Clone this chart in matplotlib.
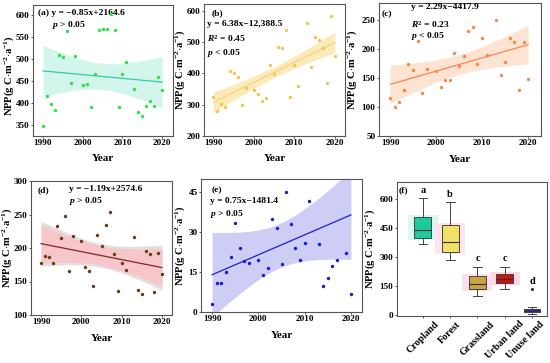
import numpy as np
import matplotlib
matplotlib.use('Agg')
import matplotlib.pyplot as plt
from matplotlib.transforms import ScaledTranslation

plt.rcParams['font.family'] = ['Liberation Serif', 'DejaVu Serif']
plt.rcParams['font.weight'] = 'bold'
plt.rcParams['mathtext.fontset'] = 'custom'
plt.rcParams['mathtext.rm'] = 'Liberation Serif:bold'
plt.rcParams['mathtext.it'] = 'Liberation Serif:italic:bold'
plt.rcParams['mathtext.bf'] = 'Liberation Serif:bold'

# ---- data ----
years = [1990, 1991, 1992, 1993, 1994, 1995, 1996, 1997, 1998, 2000, 2001, 2002, 2003,
         2004, 2005, 2006, 2007, 2008, 2009, 2010, 2011, 2013, 2014, 2015, 2016, 2017,
         2018, 2019, 2020]
years_e = [y for y in years if y != 2018]

npp_cropland = [347, 415, 398, 384, 509, 504, 564, 445, 507, 442, 443, 390, 466, 567, 568,
                568, 602, 565, 392, 465, 493, 433, 380, 370, 393, 405, 393, 460, 429]
npp_forest = [325, 281, 303, 293, 409, 403, 390, 299, 355, 348, 334, 311, 323, 428, 399,
              483, 481, 539, 325, 427, 359, 560, 419, 515, 506, 481, 368, 585, 456]
npp_grass = [115, 101, 109, 130, 175, 165, 215, 124, 166, 162, 134, 146, 146, 194, 171,
             188, 232, 239, 174, 220, 190, 250, 156, 178, 219, 212, 130, 213, 149]
npp_urban = [177, 188, 187, 178, 233, 215, 248, 166, 218, 210, 171, 165, 144, 219, 203,
             235, 253, 191, 136, 178, 167, 217, 138, 132, 195, 191, 135, 192, 161]
npp_unuse = [3, 11, 11, 15, 20.5, 33.5, 24, 19, 18.6, 19.4, 13.9, 16.4, 35, 31.7, 18.2,
             45, 33, 24, 19.4, 25.9, 41.9, 25.5, 9.75, 12.9, 17.4, 19.4, 22, 6.75]

# trend lines as printed in the panels (e: intercept)
slopes = [-0.85, 6.38, 2.29, -1.19, 0.75]
intercepts = [2164.6, -12388.5, -4417.9, 2574.6, -1478.5]

land_types = ['Cropland', 'Forest', 'Grassland', 'Urban land', 'Unuse land']
box_whislo = [368, 283, 99, 133, 5]
box_q1 = [397, 326, 133, 167, 14]
box_med = [440, 380, 163, 187, 22]
box_q3 = [508, 468, 201, 215, 33]
box_whishi = [606, 584, 250, 250, 44]
box_fliers = [[], [], [], [], [135]]
box_letters = ['a', 'b', 'c', 'c', 'd']


def px_axes(fig, left, right, top, bottom):
    W, H = 550, 363
    return fig.add_axes([left / W, 1 - bottom / H, (right - left) / W, (bottom - top) / H])


def style(ax, ylab_x, xlab_y=-0.14, ylab_y=0.5):
    for s in ax.spines.values():
        s.set_color('#555555')
        s.set_linewidth(0.8)
    ax.tick_params(direction='out', length=1.5, width=0.7, color='#555555',
                   labelsize=6.6, pad=1)
    for lab in ax.get_xticklabels() + ax.get_yticklabels():
        lab.set_fontweight('bold')
    ax.set_ylabel(r'NPP(g C$\cdot$m$^{-2}$$\cdot$a$^{-1}$)', fontsize=7.6, fontweight='bold')
    ax.yaxis.set_label_coords(ylab_x, ylab_y)
    if xlab_y is not None:
        ax.set_xlabel('Year', fontsize=8, fontweight='bold')
        ax.xaxis.set_label_coords(0.5, xlab_y)


def trend(ax, x, y, i, pc, lc, bc, k, extra_band=None):
    x = np.array(x, float)
    y = np.array(y, float)
    b1, b0 = slopes[i], intercepts[i]
    xs = np.linspace(1990, 2020, 100)
    fit = b0 + b1 * xs
    res = y - (b0 + b1 * x)
    s = np.sqrt(np.sum(res ** 2) / (len(x) - 2))
    se = s * np.sqrt(1 / len(x) + (xs - x.mean()) ** 2 / np.sum((x - x.mean()) ** 2))
    if extra_band is not None:
        ax.fill_between(xs, fit - 1.2 * k * se, fit + 1.2 * k * se, color=extra_band,
                        linewidth=0, zorder=1)
    ax.fill_between(xs, fit - k * se, fit + k * se, color=bc, linewidth=0, zorder=1.2)
    ax.plot(xs, fit, color=lc, lw=0.9, zorder=2)
    ax.scatter(x, y, s=6, color=pc, lw=0, zorder=3)


fig = plt.figure(figsize=(5.5, 3.63), dpi=100)

# (a) cropland
ax = px_axes(fig, 33, 173, 5, 136)
trend(ax, years, npp_cropland, 0, '#2ee04a', '#33ccaa', '#d3f6ec', 2.2)
ax.set_xlim(1987.5, 2022.7)
ax.set_ylim(325, 623)
ax.set_xticks([1990, 2000, 2010, 2020])
ax.set_yticks([350, 400, 450, 500, 550, 600])
ax.text(0.036, 0.937, '(a) y = \u22120.85x+2164.6', transform=ax.transAxes, fontsize=6.8,
        va='center', fontweight='bold', zorder=2)
ax.text(0.136, 0.847, r'$p$ > 0.05', transform=ax.transAxes, fontsize=6.8, va='center')
style(ax, -0.125, ylab_y=0.46)

# (b) forest
ax = px_axes(fig, 204, 345, 4, 136)
trend(ax, years, npp_forest, 1, '#f6c257', '#f8d27a', '#fbebbb', 1.45)
ax.set_xlim(1987.7, 2022.5)
ax.set_ylim(200, 622)
ax.set_xticks([1990, 2000, 2010, 2020])
ax.set_yticks([200, 300, 400, 500, 600])
ax.text(0.055, 0.93, '(b)', transform=ax.transAxes, fontsize=6.8, va='center')
ax.text(0.023, 0.85, 'y = 6.38x\u221212,388.5', transform=ax.transAxes, fontsize=6.8, va='center')
ax.text(0.023, 0.735, r'$R^2$ = 0.45', transform=ax.transAxes, fontsize=6.8, va='center')
ax.text(0.023, 0.63, r'$p$ < 0.05', transform=ax.transAxes, fontsize=6.8, va='center')
style(ax, -0.124)

# (c) grassland
ax = px_axes(fig, 379, 541, 3, 136)
trend(ax, years, npp_grass, 2, '#f48a4a', '#f4875a', '#fde3d2', 2.6)
ax.set_xlim(1987.6, 2022.8)
ax.set_ylim(50, 280)
ax.set_xticks([1990, 2000, 2010, 2020])
ax.set_yticks([50, 100, 150, 200, 250])
ax.text(0.017, 0.917, '(c)', transform=ax.transAxes, fontsize=6.8, va='center')
ax.text(0.196, 0.972, 'y = 2.29x\u22124417.9', transform=ax.transAxes, fontsize=6.8, va='center')
ax.text(0.196, 0.84, r'$R^2$ = 0.23', transform=ax.transAxes, fontsize=6.8, va='center')
ax.text(0.196, 0.75, r'$p$ < 0.05', transform=ax.transAxes, fontsize=6.8, va='center')
style(ax, -0.124)

# (d) urban land
ax = px_axes(fig, 31, 172, 181, 315)
trend(ax, years, npp_urban, 3, '#6b3b12', '#8b2323', '#f6c6cb', 2.4, extra_band='#e4dede')
ax.set_xlim(1987.5, 2022.5)
ax.set_ylim(100, 300)
ax.set_xticks([1990, 2000, 2010, 2020])
ax.set_yticks([100, 150, 200, 250, 300])
ax.text(0.05, 0.933, '(d)', transform=ax.transAxes, fontsize=6.8, va='center')
ax.text(0.27, 0.94, 'y = \u22121.19x+2574.6', transform=ax.transAxes, fontsize=6.8, va='center')
ax.text(0.27, 0.85, r'$p$ > 0.05', transform=ax.transAxes, fontsize=6.8, va='center')
style(ax, -0.124)

# (e) unused land
ax = px_axes(fig, 201, 362, 179, 312)
trend(ax, years_e, npp_unuse, 4, '#1c1ccf', '#2222cc', '#cdcdf6', 3.6)
ax.set_xlim(1987.6, 2022.4)
ax.set_ylim(0, 50)
ax.set_xticks([1990, 2000, 2010, 2020])
ax.set_yticks([0, 15, 30, 45])
ax.text(0.066, 0.917, '(e)', transform=ax.transAxes, fontsize=6.8, va='center')
ax.text(0.056, 0.835, 'y = 0.75x\u22121481.4', transform=ax.transAxes, fontsize=6.8, va='center')
ax.text(0.056, 0.737, r'$p$ > 0.05', transform=ax.transAxes, fontsize=6.8, va='center')
style(ax, -0.09)

# (f) boxplot
ax = px_axes(fig, 397, 547, 182, 316)
box_colors = ['#1ec99b', '#f2e066', '#c9a443', '#c8150f', '#2323b8']
shade_colors = ['#d8f8f0', '#fde4ef', '#fde0ea', '#fdd8e4', None]
pos = np.arange(1, 6)
stats = []
for i in range(5):
    stats.append(dict(label=land_types[i], whislo=box_whislo[i], q1=box_q1[i],
                      med=box_med[i], q3=box_q3[i], whishi=box_whishi[i],
                      fliers=box_fliers[i]))
for i in range(4):
    ax.bar(pos[i], box_q3[i] - box_q1[i] + 20, bottom=box_q1[i] - 10, width=1.1,
           color=shade_colors[i], lw=0, zorder=0)
bp = ax.bxp(stats, positions=pos, widths=0.62, patch_artist=True, showfliers=True,
            boxprops=dict(edgecolor='#444444', linewidth=0.7),
            whiskerprops=dict(color='#444444', linewidth=0.7),
            capprops=dict(color='#444444', linewidth=0.7),
            medianprops=dict(color='#333333', linewidth=0.8),
            flierprops=dict(marker='o', markersize=1.2, markerfacecolor='#333333',
                            markeredgecolor='#333333'),
            capwidths=0.32)
for patch, c in zip(bp['boxes'], box_colors):
    patch.set_facecolor(c)
for i in range(5):
    top = max([box_whishi[i]] + box_fliers[i])
    ax.text(pos[i], top + 18, box_letters[i], ha='center', va='bottom', fontsize=7.5)
ax.set_xlim(0.05, 5.55)
ax.set_ylim(-5, 690)
ax.set_yticks([0, 150, 300, 450, 600])
ax.set_xticks(pos)
ax.set_xticklabels(land_types, rotation=45, ha='center')
ax.text(0.01, 0.94, '(f)', transform=ax.transAxes, fontsize=6.8, va='center')
style(ax, -0.132, xlab_y=None)
for lab in ax.get_xticklabels():
    lab.set_fontsize(7.2)
last = ax.get_xticklabels()[-1]
last.set_transform(last.get_transform() + ScaledTranslation(-0.07, 0, fig.dpi_scale_trans))

fig.savefig('out.png', dpi=100)
